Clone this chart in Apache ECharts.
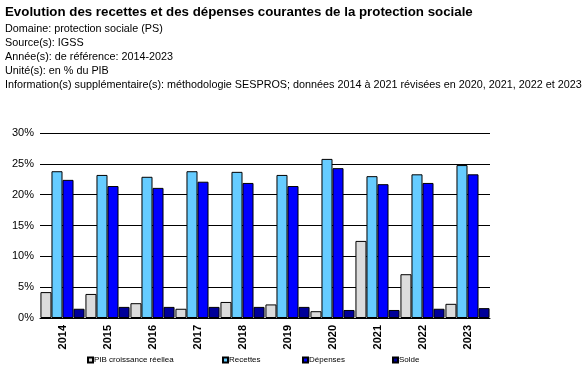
<!DOCTYPE html>
<html><head><meta charset="utf-8">
<script src="https://cdn.jsdelivr.net/npm/echarts@6/dist/echarts.min.js"></script>
<style>html,body{margin:0;padding:0;background:#fff}#c{width:585px;height:377px}</style>
</head><body><div id="c"></div>
<script>
const categories = ['2014','2015','2016','2017','2018','2019','2020','2021','2022','2023'];
const pib      = [4.2, 3.9, 2.4, 1.5, 2.6, 2.2, 1.1, 12.5, 7.1, 2.3];
const recettes = [23.8, 23.2, 22.9, 23.8, 23.7, 23.2, 25.8, 23.0, 23.3, 24.8];
const depenses = [22.4, 21.4, 21.1, 22.1, 21.9, 21.4, 24.3, 21.7, 21.9, 23.3];
const solde    = [1.5, 1.8, 1.8, 1.8, 1.8, 1.8, 1.3, 1.3, 1.5, 1.6];
const yTicks = [0, 5, 10, 15, 20, 25, 30];
const seriesNames = ['PIB croissance réellea', 'Recettes', 'Dépenses', 'Solde'];
const colors = ['#dcdcdc', '#66ccff', '#0000ff', '#000099'];
const headerLines = [
  'Domaine: protection sociale (PS)',
  'Source(s): IGSS',
  'Année(s): de référence: 2014-2023',
  'Unité(s): en % du PIB',
  'Information(s) supplémentaire(s): méthodologie SESPROS; données 2014 à 2021 révisées en 2020, 2021, 2022 et 2023'
];
const legendLeft = [87, 222, 302, 392];

const chart = echarts.init(document.getElementById('c'));
const dataArr = [pib, recettes, depenses, solde];
chart.setOption({
  animation: false,
  textStyle: { fontFamily: 'Arial, Liberation Sans, sans-serif' },
  title: [{
    text: 'Evolution des recettes et des dépenses courantes de la protection sociale',
    left: 5, top: 6, padding: 0,
    textStyle: { fontSize: 13.3, fontWeight: 'bold', color: '#000', fontFamily: 'Arial, Liberation Sans' }
  }].concat(headerLines.map((t, i) => ({
    text: t, left: 5, top: 24 + i * 14, padding: 0,
    textStyle: { fontSize: 10.8, fontWeight: 'normal', color: '#000', fontFamily: 'Arial, Liberation Sans' }
  }))),
  legend: seriesNames.map((n, i) => ({
    data: [n], left: legendLeft[i], top: 356, padding: 0, itemWidth: 5, itemHeight: 5, itemGap: 0,
    icon: 'rect', textStyle: { fontSize: 8, color: '#000', padding: [0, 0, 0, -4] }
  })),
  grid: { left: 40, right: 95, top: 133, bottom: 59 },
  xAxis: {
    type: 'category', data: categories,
    axisLine: { show: true, lineStyle: { color: '#000' } },
    axisTick: { show: false },
    axisLabel: { rotate: 90, fontSize: 11, fontWeight: 'bold', color: '#000', margin: 7 }
  },
  yAxis: {
    type: 'value', min: 0, max: 30, interval: 5,
    axisLabel: { formatter: v => yTicks.includes(v) ? v + '%' : '', fontSize: 11, color: '#000', margin: 6 },
    splitLine: { lineStyle: { color: '#000', width: 1 } },
    axisLine: { show: false }, axisTick: { show: false }
  },
  series: seriesNames.map((n, i) => ({
    name: n, type: 'bar', data: dataArr[i],
    barGap: '0%', barCategoryGap: '2%',
    itemStyle: { color: colors[i], borderColor: '#000', borderWidth: 1 }
  }))
});
</script></body></html>
